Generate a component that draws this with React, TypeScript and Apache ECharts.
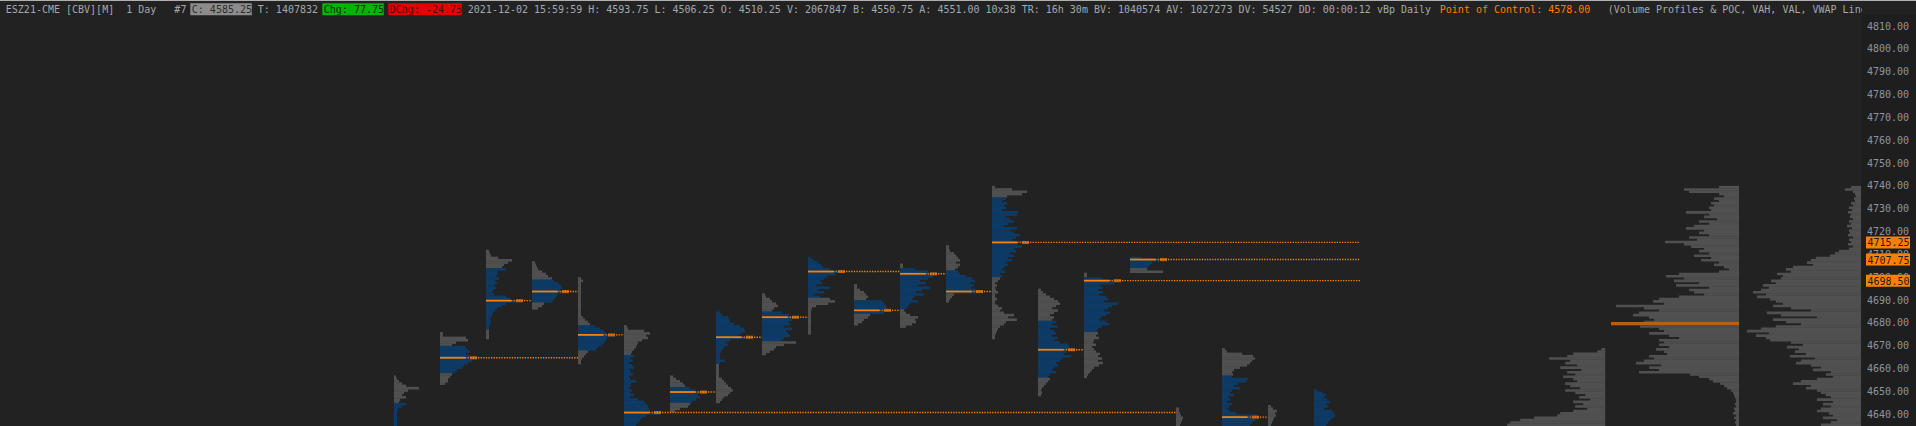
import React, { useEffect, useRef } from "react";
import * as echarts from "echarts";

// ---------- colours ----------
const BG = "#222222";
const PANEL = "#1e1e1e";
const GRAY = "#505050";
const BLUE = "#0e3a66";
const ORANGE = "#ff8000";
const DARK_ORANGE = "#b8600c";
const AXIS_TEXT = "#8e959e";
const HEADER_TEXT = "#a3a8ad";
const MONO = "DejaVu Sans Mono";

// ---------- axes ----------
const Y_MIN = 4630;
const Y_MAX = 4820;
const Y_STEP = 10;
const X_MIN = -8.5652; // day units (empty space left of the first session)
const X_MAX = 31.913;
const VOL_PX = 1; // volume unit -> pixels

// ---------- daily volume profiles (1-point bins, from the top price downwards) ----------
const vol0 = [2, 3, 5, 8, 12, 25, 14, 10, 8, 12, 6, 5, 12, 8, 4, 3, 3, 3, 3, 3, 3, 3, 3];
const vol1 = [3, 3, 26, 28, 16, 12, 25, 27, 30, 26, 30, 37, 32, 28, 24, 22, 17, 15, 12, 10, 8, 8, 5];
const vol2 = [3, 4, 5, 12, 26, 22, 18, 16, 20, 11, 12, 10, 13, 9, 11, 8, 10, 7, 6, 8, 20, 24, 37, 20, 16, 11, 9, 7, 6, 5, 4, 5, 4, 3, 3, 3, 3, 3, 3];
const vol3 = [3, 4, 5, 6, 10, 14, 16, 20, 22, 26, 29, 30, 28, 37, 25, 24, 22, 20, 12, 10, 6];
const vol4 = [3, 5, 3, 3, 3, 3, 3, 3, 3, 3, 3, 3, 3, 3, 3, 3, 3, 5, 7, 10, 12, 17, 22, 26, 28, 37, 29, 28, 26, 24, 20, 18, 10, 8, 6, 4, 3, 3];
const vol5 = [3, 4, 20, 26, 22, 24, 18, 14, 13, 12, 10, 8, 7, 10, 6, 9, 5, 8, 10, 6, 7, 9, 5, 6, 12, 7, 6, 5, 8, 6, 10, 6, 14, 20, 22, 24, 25, 26, 37, 22, 18, 16, 14, 12, 10];
const vol6 = [3, 6, 10, 13, 15, 20, 25, 37, 28, 30, 26, 22, 20, 18, 10, 5];
const vol7 = [4, 6, 12, 13, 14, 18, 24, 28, 29, 25, 22, 37, 14, 10, 12, 8, 6, 5, 4, 4, 4, 9, 4, 3, 3, 3, 3, 3, 3, 6, 8, 10, 12, 15, 17, 14, 12, 8, 6, 4];
const vol8 = [3, 4, 8, 10, 14, 16, 12, 10, 20, 27, 37, 30, 26, 28, 22, 30, 24, 26, 28, 22, 20, 34, 22, 14, 12, 8, 4];
const vol9 = [3, 6, 10, 13, 15, 22, 37, 27, 19, 16, 12, 14, 8, 22, 10, 16, 6, 12, 22, 27, 20, 8, 4, 3, 3, 3, 3, 3, 3, 3, 3, 3, 3, 3];
const vol10 = [3, 3, 6, 10, 12, 14, 12, 28, 30, 32, 33, 37, 30, 16, 14, 10, 8, 4];
const vol11 = [3, 3, 15, 28, 37, 33, 28, 20, 26, 18, 30, 22, 16, 24, 14, 12, 18, 10, 8, 6, 4, 6, 10, 18, 15, 16, 12, 6];
const vol12 = [3, 3, 4, 8, 10, 12, 14, 10, 14, 12, 9, 12, 14, 20, 26, 29, 24, 28, 25, 30, 37, 8, 6, 4, 3];
const vol13 = [3, 20, 35, 30, 15, 14, 10, 15, 12, 14, 10, 26, 25, 14, 18, 22, 16, 12, 25, 18, 22, 28, 24, 20, 37, 26, 30, 22, 24, 18, 22, 16, 20, 14, 16, 12, 10, 13, 8, 10, 8, 6, 3, 5, 3, 4, 6, 3, 3, 5, 3, 3, 6, 10, 8, 12, 22, 16, 25, 14, 12, 8, 6, 5, 4, 3, 3];
const vol14 = [3, 5, 8, 12, 16, 20, 22, 18, 14, 20, 16, 12, 16, 14, 18, 14, 20, 12, 16, 18, 14, 20, 16, 22, 30, 31, 37, 28, 26, 33, 24, 22, 18, 20, 16, 14, 18, 12, 10, 12, 10, 8, 6, 4, 3, 4, 3];
const vol15 = [3, 3, 18, 37, 30, 16, 18, 14, 19, 15, 22, 24, 20, 34, 28, 24, 20, 26, 22, 17, 15, 22, 25, 18, 14, 13, 14, 12, 15, 10, 9, 12, 8, 10, 12, 16, 14, 18, 14, 19, 15, 10, 8, 6, 4, 3];
const vol16 = [11, 37, 22, 20, 18, 17, 33];
const vol17 = [3, 3, 4, 5, 7, 6, 5, 4, 4];
const vol18 = [3, 5, 20, 31, 33, 30, 28, 25, 18, 12, 10, 11, 10, 26, 24, 16, 12, 18, 10, 8, 12, 6, 8, 5, 10, 7, 5, 8, 14, 35, 37, 33, 30, 28, 22];
const vol19 = [3, 5, 9, 7, 8, 6, 5, 4, 3, 3];
const vol20 = [3, 8, 12, 10, 13, 16, 12, 14, 10, 18, 20, 21, 19, 16, 14, 12, 10];

const DAY_VOLS = [vol0, vol1, vol2, vol3, vol4, vol5, vol6, vol7, vol8, vol9, vol10, vol11, vol12, vol13, vol14, vol15, vol16, vol17, vol18, vol19, vol20];
const DAY_TOPS = [4657, 4676, 4712, 4707, 4700, 4679, 4657, 4685, 4693, 4709, 4697, 4706, 4714, 4740, 4695, 4702, 4709, 4643, 4669, 4644, 4651];
const VA_HIGH = [4645, 4670, 4704, 4699, 4679, 4666, 4652, 4685, 4685, 4709, 4690, 4704, 4703, 4735, 4681, 4700, 4709, 0, 4657, 0, 4651];
const VA_LOW = [4600, 4659, 4678, 4690, 4669, 4600, 4646, 4663, 4673, 4692, 4685, 4687, 4694, 4701, 4657, 4677, 4705, 0, 4600, 0, 4600];
const POC = [null, 4664.75, 4689.75, 4693.75, 4674.75, 4640.75, 4649.75, 4673.75, 4682.5, 4702.5, 4685.5, 4701.5, 4693.75, 4715.25, 4668.25, 4698.5, 4707.75, null, 4638.75, null, null];
const POC_END = [null, 4, 3, 4, 5, 17, 7, 8, 9, 11, 11, 12, 13, 21, 15, 21, 21, null, 19, null, null];
const NAKED_END = 21;

// ---------- composite profiles (right aligned) ----------
const compA = [4, 8, 32, 38, 56, 35, 40, 28, 45, 24, 38, 30, 42, 32, 28, 40, 35, 25, 40, 30, 20, 26, 15, 32, 22, 30, 18, 32, 45, 48, 71, 85, 95, 98, 90];
const compB = [20, 55, 50, 20, 15, 25, 20, 28, 25, 30, 28, 53, 30, 35, 22, 40, 30, 45, 53, 35, 40, 30, 50, 42, 74, 55, 48, 35, 40, 30, 45, 28, 38, 20, 25, 15, 10, 20, 60, 73, 55, 65, 40, 63, 30, 50, 45, 35, 60, 80, 86, 75, 123, 95, 80, 100, 106, 90, 85, 95, 128, 99, 80, 75, 90, 70, 60, 80, 75, 80, 70, 83, 75, 72, 90, 85, 95, 103, 78, 90, 80, 100, 49, 40, 30, 26, 19, 15, 12, 8, 6, 5, 4, 3, 3, 4, 3, 5, 4, 6, 3, 5, 3, 4, 3, 3];
const compC = [10, 16, 8, 6, 5, 7, 6, 10, 8, 12, 9, 13, 10, 11, 8, 12, 10, 14, 9, 12, 11, 13, 8, 12, 10, 13, 8, 12, 22, 26, 31, 45, 50, 54, 48, 68, 75, 70, 84, 78, 80, 90, 85, 98, 92, 100, 108, 95, 104, 91, 85, 78, 88, 70, 50, 94, 80, 44, 88, 75, 60, 85, 100, 114, 92, 105, 95, 91, 70, 58, 74, 62, 66, 55, 71, 46, 60, 65, 50, 40, 48, 30, 35, 28, 44, 60, 68, 50, 55, 44, 40, 35, 30, 44, 28, 38, 30, 40, 44, 32, 28, 38, 24, 30, 40, 35];
const COMP_VOLS = [compA, compB, compC];
const COMP_TOPS = [4669, 4740, 4740];
const COMP_RIGHT = [26.33, 29.24, 31.89];
const COMP_POC = [null, 4679.75, null];

// ---------- header ----------
const HEADER = [
  { at: 0, text: "ESZ21-CME [CBV][M]  1 Day   #7", color: HEADER_TEXT, bg: null },
  { at: 31, text: "C: 4585.25", color: "#2c2c2c", bg: "#8c8c8c" },
  { at: 42, text: "T: 1407832", color: HEADER_TEXT, bg: null },
  { at: 53, text: "Chg: 77.75", color: "#0c2a0c", bg: "#00b400" },
  { at: 64, text: "DChg: -24.75", color: "#4a0000", bg: "#e60000" },
  { at: 77, text: "2021-12-02 15:59:59 H: 4593.75 L: 4506.25 O: 4510.25 V: 2067847 B: 4550.75 A: 4551.00 10x38 TR: 16h 30m BV: 1040574 AV: 1027273 DV: 54527 DD: 00:00:12 vBp Daily", color: HEADER_TEXT, bg: null },
  { at: 239, text: "Point of Control: 4578.00", color: ORANGE, bg: null },
  { at: 267, text: "(Volume Profiles & POC, VAH, VAL, VWAP Line", color: HEADER_TEXT, bg: null },
];
const CHAR_W = 6;
const HEADER_X0 = 5.8;

function buildOption() {
  const barData: any[] = [];
  DAY_VOLS.forEach((vols, d) => {
    vols.forEach((v, k) => {
      const p = DAY_TOPS[d] - k;
      const va = p <= VA_HIGH[d] && p >= VA_LOW[d] ? 1 : 0;
      barData.push([d, p, v, va, 0]);
    });
  });
  COMP_VOLS.forEach((vols, c) => {
    vols.forEach((v, k) => barData.push([COMP_RIGHT[c], COMP_TOPS[c] - k, v, 0, 1]));
  });

  const pocData: any[] = [];
  POC.forEach((p, d) => {
    if (p == null) return;
    pocData.push([d, p, Math.max(...DAY_VOLS[d]) * VOL_PX, POC_END[d]]);
  });

  const compPocData: any[] = [];
  COMP_POC.forEach((p, c) => {
    if (p == null) return;
    compPocData.push([COMP_RIGHT[c], p, Math.max(...COMP_VOLS[c]) * VOL_PX]);
  });

  const nakedData: any[] = [];
  POC.forEach((p, d) => {
    if (p != null && POC_END[d] === NAKED_END) nakedData.push([X_MAX, p]);
  });

  const graphic: any[] = [
    { type: "rect", z: -5, silent: true, shape: { x: 1862, y: 14, width: 54, height: 412 }, style: { fill: PANEL } },
  ];
  HEADER.forEach((h) => {
    const x = HEADER_X0 + h.at * CHAR_W;
    if (h.bg) {
      graphic.push({ type: "rect", z: 10, silent: true, shape: { x: x - 1.5, y: 3.3, width: h.text.length * CHAR_W + 1.5, height: 12 }, style: { fill: h.bg } });
    }
    graphic.push({
      type: "text", z: 11, silent: true,
      style: { text: h.text, x, y: 9.5, fill: h.color, fontSize: 10, fontFamily: MONO, verticalAlign: "middle", align: "left" },
    });
  });
  graphic.push({ type: "rect", z: 12, silent: true, shape: { x: 1862, y: 1, width: 54, height: 13 }, style: { fill: BG } });
  graphic.push({ type: "rect", z: 13, silent: true, shape: { x: 0, y: 0, width: 1916, height: 1 }, style: { fill: "#b0b0b0" } });

  return {
    animation: false,
    backgroundColor: BG,
    grid: { left: 0, top: 3.16, width: 1862, height: 433.96, containLabel: false, outerBoundsMode: "none" },
    xAxis: { type: "value", min: X_MIN, max: X_MAX, show: false },
    yAxis: {
      type: "value", position: "right", min: Y_MIN, max: Y_MAX, interval: Y_STEP,
      axisLine: { show: false }, axisTick: { show: false }, splitLine: { show: false },
      axisLabel: {
        margin: 5, color: AXIS_TEXT, fontFamily: MONO, fontSize: 10, align: "left",
        formatter: (v: number) => (v > Y_MAX - 5 || v < Y_MIN + 5 ? "" : v.toFixed(2)),
      },
    },
    graphic,
    series: [
      {
        type: "custom", name: "profiles", data: barData, clip: false, z: 2,
        encode: { x: 0, y: 1 },
        renderItem: (params: any, api: any) => {
          const x = api.value(0), p = api.value(1), vol = api.value(2), va = api.value(3), right = api.value(4);
          const a = api.coord([x, p]);
          const b = api.coord([x, p - 1]);
          const w = vol * VOL_PX;
          return {
            type: "rect",
            shape: { x: right ? a[0] - w : a[0], y: a[1], width: w, height: b[1] - a[1] + 0.35 },
            style: { fill: va ? BLUE : GRAY },
          };
        },
      },
      {
        type: "custom", name: "poc", data: pocData, clip: false, z: 3,
        encode: { x: 0, y: 1 },
        renderItem: (params: any, api: any) => {
          const x = api.value(0), p = api.value(1), W = api.value(2), end = api.value(3);
          const s = api.coord([x, p]);
          const e = api.coord([end, p]);
          const L = s[0], y = s[1];
          return {
            type: "group",
            children: [
              { type: "line", shape: { x1: L, y1: y, x2: L + W - 12, y2: y }, style: { stroke: ORANGE, lineWidth: 1.8 } },
              { type: "rect", shape: { x: L + W - 7, y: y - 1.5, width: 7, height: 3 }, style: { fill: DARK_ORANGE } },
              { type: "line", shape: { x1: L + W - 12, y1: y, x2: e[0], y2: y }, style: { stroke: ORANGE, lineWidth: 1.4, lineDash: [1.3, 1.3] } },
            ],
          };
        },
      },
      {
        type: "custom", name: "compositePoc", data: compPocData, clip: false, z: 3,
        encode: { x: 0, y: 1 },
        renderItem: (params: any, api: any) => {
          const x = api.value(0), p = api.value(1), W = api.value(2);
          const s = api.coord([x, p]);
          return { type: "rect", shape: { x: s[0] - W, y: s[1] - 1.4, width: W, height: 2.8 }, style: { fill: DARK_ORANGE } };
        },
      },
      {
        type: "custom", name: "nakedPocLabels", data: nakedData, clip: false, z: 5,
        encode: { x: 0, y: 1 },
        renderItem: (params: any, api: any) => {
          const p = api.value(1);
          const s = api.coord([api.value(0), p]);
          return {
            type: "group",
            children: [
              { type: "rect", shape: { x: s[0] + 4, y: s[1] - 6, width: 44, height: 12 }, style: { fill: ORANGE } },
              {
                type: "text",
                style: { text: p.toFixed(2), x: s[0] + 5.5, y: s[1] + 0.5, fill: "#1c1c1c", fontSize: 10, fontFamily: MONO, verticalAlign: "middle", align: "left" },
              },
            ],
          };
        },
      },
    ],
  };
}

export default function App() {
  const ref = useRef<HTMLDivElement>(null);
  useEffect(() => {
    document.body.style.margin = "0";
    document.body.style.background = BG;
    const chart = echarts.init(ref.current as HTMLDivElement, null, { renderer: "svg" });
    chart.setOption(buildOption() as any);
    return () => chart.dispose();
  }, []);
  return <div ref={ref} style={{ width: 1916, height: 426 }} />;
}
